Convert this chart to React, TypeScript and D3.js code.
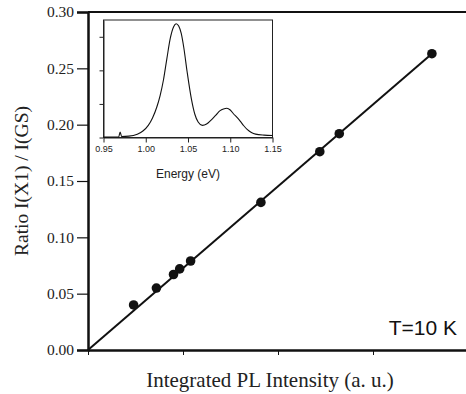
import { useEffect, useRef } from 'react';
import * as d3 from 'd3';

// main plot: integrated PL intensity vs ratio
const intensity = [0.48, 0.72, 0.90, 0.965, 1.08, 1.82, 2.44, 2.645, 3.62];
const ratio = [0.040, 0.055, 0.067, 0.072, 0.079, 0.131, 0.176, 0.192, 0.263];
const fitX = [0, 3.62];
const fitY = [0, 0.263];
const yTicks = [0, 0.05, 0.1, 0.15, 0.2, 0.25, 0.3];
const xTicks = [0, 1, 2, 3];

// inset: PL spectrum
const energy = [0.950, 0.960, 0.968, 0.9697, 0.9715, 0.980, 0.990, 0.997, 1.003, 1.008, 1.013, 1.017, 1.021, 1.025, 1.029, 1.033, 1.036, 1.039, 1.042, 1.045, 1.049, 1.054, 1.058, 1.062, 1.067, 1.072, 1.077, 1.083, 1.088, 1.092, 1.096, 1.100, 1.104, 1.108, 1.112, 1.116, 1.120, 1.125, 1.130, 1.140, 1.150];
const pl = [0.01, 0.015, 0.02, 0.16, 0.03, 0.04, 0.10, 0.20, 0.36, 0.58, 0.90, 1.25, 1.72, 2.35, 2.95, 3.30, 3.39, 3.32, 3.10, 2.68, 1.95, 1.15, 0.70, 0.46, 0.36, 0.40, 0.51, 0.67, 0.80, 0.85, 0.87, 0.82, 0.70, 0.60, 0.48, 0.35, 0.24, 0.15, 0.10, 0.07, 0.06];
const insetXTicks = [0.95, 1.0, 1.05, 1.1, 1.15];
const insetYTicks = [0, 1, 2, 3];

const W = 466;
const H = 394;

export default function App() {
  const svgRef = useRef<SVGSVGElement>(null);

  useEffect(() => {
    const svg = d3.select(svgRef.current);
    svg.selectAll('*').remove();

    const x = d3.scaleLinear().domain([0, 4]).range([88, 468]);
    const y = d3.scaleLinear().domain([0, 0.3]).range([350, 12]);

    const serif = '"Liberation Serif", "Times New Roman", serif';
    const sans = '"Liberation Sans", Arial, sans-serif';

    // top frame line
    svg.append('line')
      .attr('x1', 88).attr('x2', W)
      .attr('y1', y(0.3)).attr('y2', y(0.3))
      .attr('stroke', '#111').attr('stroke-width', 2);

    const yAxis = svg.append('g')
      .attr('transform', 'translate(88,0)')
      .call(d3.axisLeft(y).tickValues(yTicks).tickFormat(d3.format('.2f')).tickSize(11).tickPadding(3));
    yAxis.select('.domain').attr('stroke', '#111').attr('stroke-width', 2.5);
    yAxis.selectAll('.tick line').attr('stroke', '#111').attr('stroke-width', 1.2);
    yAxis.selectAll('text').style('font-family', serif).style('font-size', '15.5px').attr('fill', '#222');

    const xAxis = svg.append('g')
      .attr('transform', `translate(0,${y(0)})`)
      .call(d3.axisBottom(x).tickValues(xTicks).tickFormat(() => '').tickSize(5).tickSizeOuter(0));
    xAxis.select('.domain').attr('stroke', '#111').attr('stroke-width', 2.5);
    xAxis.selectAll('.tick line').attr('stroke', '#111').attr('stroke-width', 1);

    // fit line
    const line = d3.line<number>().x(d => x(d)).y((d, i) => y(fitY[i]));
    svg.append('path')
      .attr('d', line(fitX))
      .attr('fill', 'none')
      .attr('stroke', '#111')
      .attr('stroke-width', 2);

    svg.append('g').selectAll('circle')
      .data(intensity)
      .enter()
      .append('circle')
      .attr('cx', d => x(d))
      .attr('cy', (d, i) => y(ratio[i]))
      .attr('r', 4.8)
      .attr('fill', '#111');

    svg.append('text')
      .attr('x', 270).attr('y', 387)
      .attr('text-anchor', 'middle')
      .style('font-family', serif).style('font-size', '21px').attr('fill', '#222')
      .text('Integrated PL Intensity (a. u.)');

    svg.append('text')
      .attr('transform', 'translate(28,181) rotate(-90)')
      .attr('text-anchor', 'middle')
      .style('font-family', serif).style('font-size', '19.5px').attr('fill', '#222')
      .text('Ratio I(X1) / I(GS)');

    svg.append('text')
      .attr('x', 457).attr('y', 335)
      .attr('text-anchor', 'end')
      .style('font-family', sans).style('font-size', '21px').attr('fill', '#111')
      .text('T=10 K');

    // inset
    const ix = d3.scaleLinear().domain([0.95, 1.15]).range([103.5, 272.5]);
    const iy = d3.scaleLinear().domain([0, 3.5]).range([137.5, 20]);
    const inset = svg.append('g');

    inset.append('rect')
      .attr('x', ix(0.95)).attr('y', iy(3.5))
      .attr('width', ix(1.15) - ix(0.95)).attr('height', iy(0) - iy(3.5))
      .attr('fill', 'white').attr('stroke', '#222').attr('stroke-width', 1);

    const ixAxis = inset.append('g')
      .attr('transform', `translate(0,${iy(0)})`)
      .call(d3.axisBottom(ix).tickValues(insetXTicks).tickFormat(d3.format('.2f')).tickSize(5).tickSizeOuter(0).tickPadding(3));
    ixAxis.select('.domain').attr('stroke', '#222');
    ixAxis.selectAll('.tick line').attr('stroke', '#222');
    ixAxis.selectAll('text').style('font-family', sans).style('font-size', '9px').attr('fill', '#222');

    const iyAxis = inset.append('g')
      .attr('transform', `translate(${ix(0.95)},0)`)
      .call(d3.axisLeft(iy).tickValues(insetYTicks).tickFormat(() => '').tickSize(4).tickSizeOuter(0));
    iyAxis.select('.domain').attr('stroke', '#222');
    iyAxis.selectAll('.tick line').attr('stroke', '#222');

    const specLine = d3.line<number>()
      .x(d => ix(d))
      .y((d, i) => iy(pl[i]))
      .curve(d3.curveMonotoneX);
    inset.append('path')
      .attr('d', specLine(energy))
      .attr('fill', 'none')
      .attr('stroke', '#111')
      .attr('stroke-width', 1.1);

    inset.append('text')
      .attr('x', (ix(0.95) + ix(1.15)) / 2).attr('y', 178)
      .attr('text-anchor', 'middle')
      .style('font-family', sans).style('font-size', '12px').attr('fill', '#222')
      .text('Energy (eV)');
  }, []);

  return (
    <svg
      ref={svgRef}
      width={W}
      height={H}
      style={{ position: 'absolute', left: 0, top: 0, background: 'white' }}
    />
  );
}
